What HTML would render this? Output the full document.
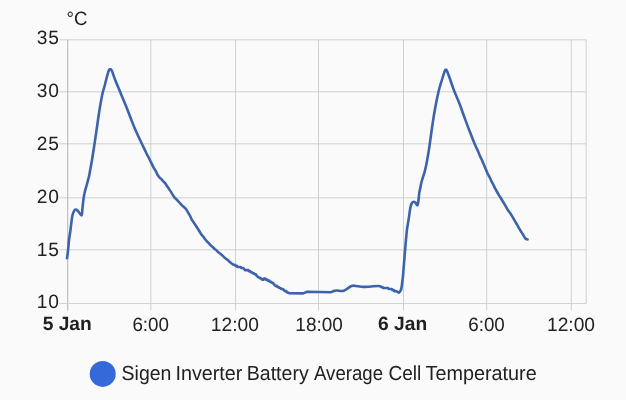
<!DOCTYPE html><html><head><meta charset="utf-8"><title>Chart</title>
<style>html,body{margin:0;padding:0;background:#fafafa;overflow:hidden}svg{display:block}text{text-rendering:geometricPrecision;font-family:"Liberation Sans",sans-serif;fill:#212121}</style></head><body>
<svg width="626" height="400" viewBox="0 0 626 400">
<rect width="626" height="400" fill="#fafafa"/>
<g stroke="#d0d0d0" stroke-width="1" fill="none">
<line x1="59.3" y1="39.8" x2="586.2" y2="39.8"/>
<line x1="59.3" y1="91.8" x2="586.2" y2="91.8"/>
<line x1="59.3" y1="143.8" x2="586.2" y2="143.8"/>
<line x1="59.3" y1="197.8" x2="586.2" y2="197.8"/>
<line x1="59.3" y1="249.8" x2="586.2" y2="249.8"/>
<line x1="150.8" y1="39.8" x2="150.8" y2="310.5"/>
<line x1="235.6" y1="39.8" x2="235.6" y2="310.5"/>
<line x1="318.5" y1="39.8" x2="318.5" y2="310.5"/>
<line x1="403.5" y1="39.8" x2="403.5" y2="310.5"/>
<line x1="486.7" y1="39.8" x2="486.7" y2="310.5"/>
<line x1="571.3" y1="39.8" x2="571.3" y2="310.5"/>
<line x1="586.2" y1="39.8" x2="586.2" y2="303.4"/>
</g>
<g stroke="#bbbbbb" stroke-width="1" fill="none">
<line x1="67.75" y1="39.8" x2="67.75" y2="310.5" stroke="#b2b2b2"/>
<line x1="59.3" y1="303.5" x2="586.2" y2="303.5" stroke="#d2d2d2"/>
</g>
<path d="M67.00,258.20 C67.00,258.20 67.77,253.03 68.10,250.00 C68.43,246.97 68.65,243.00 69.00,240.00 C69.35,237.00 69.83,234.67 70.20,232.00 C70.57,229.33 70.85,226.67 71.20,224.00 C71.55,221.33 71.87,218.08 72.30,216.00 C72.73,213.92 73.25,212.57 73.80,211.50 C74.35,210.43 74.98,209.77 75.60,209.60 C76.22,209.43 76.85,209.93 77.50,210.50 C78.15,211.07 78.95,212.32 79.50,213.00 C80.05,213.68 80.45,214.23 80.80,214.60 C81.15,214.97 81.38,215.47 81.60,215.20 C81.82,214.93 81.95,214.20 82.10,213.00 C82.25,211.80 82.23,210.53 82.50,208.00 C82.77,205.47 83.32,200.47 83.70,197.80 C84.08,195.13 84.25,194.30 84.80,192.00 C85.35,189.70 86.28,186.67 87.00,184.00 C87.72,181.33 88.57,178.33 89.10,176.00 C89.63,173.67 89.72,172.67 90.20,170.00 C90.68,167.33 91.28,164.33 92.00,160.00 C92.72,155.67 93.67,149.50 94.50,144.00 C95.33,138.50 96.17,132.67 97.00,127.00 C97.83,121.33 98.60,115.50 99.50,110.00 C100.40,104.50 101.55,98.00 102.40,94.00 C103.25,90.00 103.90,88.67 104.60,86.00 C105.30,83.33 105.97,80.40 106.60,78.00 C107.23,75.60 107.93,73.03 108.40,71.60 C108.87,70.17 109.40,69.40 109.40,69.40 C109.40,69.40 111.00,69.40 111.00,69.40 C111.00,69.40 111.50,69.83 112.20,71.60 C112.90,73.37 113.88,76.63 115.20,80.00 C116.52,83.37 118.33,87.53 120.10,91.80 C121.87,96.07 123.98,101.07 125.80,105.60 C127.62,110.13 129.53,115.27 131.00,119.00 C132.47,122.73 133.40,125.17 134.60,128.00 C135.80,130.83 136.97,133.33 138.20,136.00 C139.43,138.67 140.73,141.33 142.00,144.00 C143.27,146.67 144.73,149.83 145.80,152.00 C146.87,154.17 147.70,155.62 148.40,157.00 C149.10,158.38 150.00,160.26 150.00,160.26 L150.00,160.26 L151.90,164.14 L153.80,167.93 L155.70,170.85 L157.60,174.99 L159.50,177.41 L161.40,179.12 L163.30,181.41 L165.20,183.26 L167.10,186.21 L169.00,188.86 L170.90,191.84 L172.80,194.94 L174.70,197.80 L176.60,199.46 L178.50,201.51 L180.40,203.67 L182.30,205.72 L184.20,207.24 L186.10,209.07 L188.00,212.36 L189.90,215.57 L191.80,219.73 L193.70,222.44 L195.60,225.33 L197.50,228.22 L199.40,231.24 L201.30,234.43 L203.20,236.57 L205.10,239.25 L207.00,241.45 L208.90,243.30 L210.80,245.40 L212.70,246.97 L214.60,249.01 L216.50,250.27 L218.40,252.30 L220.30,253.78 L222.20,255.34 L224.10,257.18 L226.00,258.69 L227.90,260.11 L229.80,262.03 L231.70,263.50 L233.60,264.82 L235.00,264.82 L235.50,265.88 L236.90,265.88 L237.40,266.93 L239.30,266.93 L240.70,266.93 L241.20,267.99 L243.10,267.99 L245.00,270.09 L246.90,270.09 L248.30,270.09 L248.80,271.15 L250.20,271.15 L250.70,272.20 L252.10,272.20 L252.60,273.26 L254.00,273.26 L254.50,274.31 L255.90,274.31 L256.40,275.36 L258.30,277.47 L259.70,277.47 L260.20,278.53 L261.60,278.53 L262.10,279.58 L263.50,279.58 L264.00,278.53 L265.40,278.53 L265.90,279.58 L267.30,279.58 L267.80,280.63 L269.20,280.63 L269.70,281.69 L271.10,281.69 L271.60,282.74 L273.00,282.74 L273.50,283.80 L275.40,285.90 L276.80,285.90 L277.30,286.96 L278.70,286.96 L279.20,288.01 L280.60,288.01 L281.10,289.07 L283.00,289.07 L284.90,291.17 L286.30,291.17 L286.80,292.23 L286.80,292.23 C286.80,292.23 289.60,293.30 289.60,293.30 C289.60,293.30 303.20,293.40 303.20,293.40 C303.20,293.40 307.20,291.80 307.20,291.80 C307.20,291.80 331.20,292.20 331.20,292.20 C331.20,292.20 333.90,290.73 336.00,290.50 C338.10,290.27 341.22,291.57 343.80,290.80 C346.38,290.03 349.15,286.67 351.50,285.90 C353.85,285.13 355.88,286.03 357.90,286.20 C359.92,286.37 360.20,286.93 363.60,286.90 C367.00,286.87 375.40,285.99 378.30,286.00 C381.20,286.01 381.00,286.96 381.00,286.96 L381.00,286.96 L382.40,286.96 L382.90,288.01 L384.80,288.01 L386.70,288.01 L388.10,288.01 L388.60,289.07 L390.50,289.07 L391.90,289.07 L392.40,290.12 L393.80,290.12 L394.30,291.17 L396.20,291.17 L396.20,291.17 C396.20,291.17 398.80,292.70 398.80,292.70 C398.80,292.70 400.50,291.42 401.10,289.50 C401.70,287.58 402.08,283.45 402.40,281.20 C402.72,278.95 402.80,278.13 403.00,276.00 C403.20,273.87 403.25,272.77 403.60,268.40 C403.95,264.03 404.57,256.03 405.10,249.80 C405.63,243.57 406.37,235.13 406.80,231.00 C407.23,226.87 407.37,227.12 407.70,225.00 C408.03,222.88 408.37,221.12 408.80,218.30 C409.23,215.48 409.83,210.55 410.30,208.10 C410.77,205.65 411.07,204.67 411.60,203.60 C412.13,202.53 412.85,201.83 413.50,201.70 C414.15,201.57 414.97,202.32 415.50,202.80 C416.03,203.28 416.38,204.20 416.70,204.60 C417.02,205.00 417.18,205.37 417.40,205.20 C417.62,205.03 417.80,204.60 418.00,203.60 C418.20,202.60 418.38,201.00 418.60,199.20 C418.82,197.40 418.97,194.93 419.30,192.80 C419.63,190.67 420.18,188.37 420.60,186.40 C421.02,184.43 421.08,183.58 421.80,181.00 C422.52,178.42 424.07,174.07 424.90,170.90 C425.73,167.73 426.22,164.98 426.80,162.00 C427.38,159.02 427.90,156.03 428.40,153.00 C428.90,149.97 429.25,147.63 429.80,143.80 C430.35,139.97 430.95,135.13 431.70,130.00 C432.45,124.87 433.17,119.37 434.30,113.00 C435.43,106.63 437.18,97.47 438.50,91.80 C439.82,86.13 441.27,82.17 442.20,79.00 C443.13,75.83 443.60,74.32 444.10,72.80 C444.60,71.28 445.20,69.90 445.20,69.90 C445.20,69.90 446.40,69.90 446.40,69.90 C446.40,69.90 447.10,71.28 447.70,72.80 C448.30,74.32 449.22,76.80 450.00,79.00 C450.78,81.20 451.63,83.83 452.40,86.00 C453.17,88.17 453.73,89.83 454.60,92.00 C455.47,94.17 456.67,96.75 457.60,99.00 C458.53,101.25 459.38,103.33 460.20,105.50 C461.02,107.67 461.77,109.95 462.50,112.00 C463.23,114.05 463.45,114.70 464.60,117.80 C465.75,120.90 467.73,126.27 469.40,130.60 C471.07,134.93 473.17,140.38 474.60,143.80 C476.03,147.22 478.00,151.13 478.00,151.13 L478.00,151.13 L479.90,155.88 L481.80,159.77 L483.70,164.22 L485.60,168.72 L487.50,173.36 L489.40,176.74 L491.30,180.80 L493.20,184.52 L495.10,188.35 L497.00,191.75 L498.90,195.13 L500.80,197.98 L502.70,201.25 L504.60,204.28 L506.50,207.72 L508.40,210.82 L510.30,213.28 L512.20,216.43 L514.10,219.64 L516.00,222.83 L517.90,226.21 L519.80,229.53 L521.70,232.57 L523.60,235.54 L523.60,235.54 C523.60,235.54 524.73,237.84 525.40,238.50 C526.07,239.16 527.60,239.50 527.60,239.50" fill="none" stroke="#3d63aa" stroke-width="2.6" stroke-linejoin="round" stroke-linecap="round"/>
<text transform="translate(59.7,43.8) scale(1.0,1)" font-size="19.2" text-anchor="end" letter-spacing="0.8">35</text>
<text transform="translate(59.7,96.7) scale(1.0,1)" font-size="19.2" text-anchor="end" letter-spacing="0.8">30</text>
<text transform="translate(59.7,149.9) scale(1.0,1)" font-size="19.2" text-anchor="end" letter-spacing="0.8">25</text>
<text transform="translate(59.7,202.7) scale(1.0,1)" font-size="19.2" text-anchor="end" letter-spacing="0.8">20</text>
<text transform="translate(59.7,255.5) scale(1.0,1)" font-size="19.2" text-anchor="end" letter-spacing="0.8">15</text>
<text transform="translate(59.7,308.1) scale(1.0,1)" font-size="19.2" text-anchor="end" letter-spacing="0.8">10</text>
<text transform="translate(66.6,25.2) scale(0.97,1)" font-size="19.2" text-anchor="start">°C</text>
<text transform="translate(67.2,329.9) scale(1.0,1)" font-size="19.2" text-anchor="middle" font-weight="bold">5 Jan</text>
<text transform="translate(150.7,331.0) scale(0.98,1)" font-size="19.2" text-anchor="middle">6:00</text>
<text transform="translate(234.8,331.0) scale(1.0,1)" font-size="19.2" text-anchor="middle">12:00</text>
<text transform="translate(319.1,331.0) scale(0.99,1)" font-size="19.2" text-anchor="middle">18:00</text>
<text transform="translate(402.6,329.9) scale(1.0,1)" font-size="19.2" text-anchor="middle" font-weight="bold">6 Jan</text>
<text transform="translate(486.5,331.0) scale(0.98,1)" font-size="19.2" text-anchor="middle">6:00</text>
<text transform="translate(571.0,331.0) scale(1.0,1)" font-size="19.2" text-anchor="middle">12:00</text>
<circle cx="102.7" cy="373.9" r="13" fill="#3569d9"/>
<text transform="translate(121.6,380.3) scale(0.96,1)" font-size="20.3" text-anchor="start">Sigen</text>
<text transform="translate(175.39999999999998,380.3) scale(0.9742,1)" font-size="20.3" text-anchor="start">Inverter</text>
<text transform="translate(246.70000000000002,380.3) scale(0.9647,1)" font-size="20.3" text-anchor="start">Battery</text>
<text transform="translate(314.0,380.3) scale(0.9193,1)" font-size="20.3" text-anchor="start">Average</text>
<text transform="translate(388.4,380.3) scale(0.9411,1)" font-size="20.3" text-anchor="start">Cell</text>
<text transform="translate(425.5,380.3) scale(0.977,1)" font-size="20.3" text-anchor="start">Temperature</text>
</svg></body></html>
